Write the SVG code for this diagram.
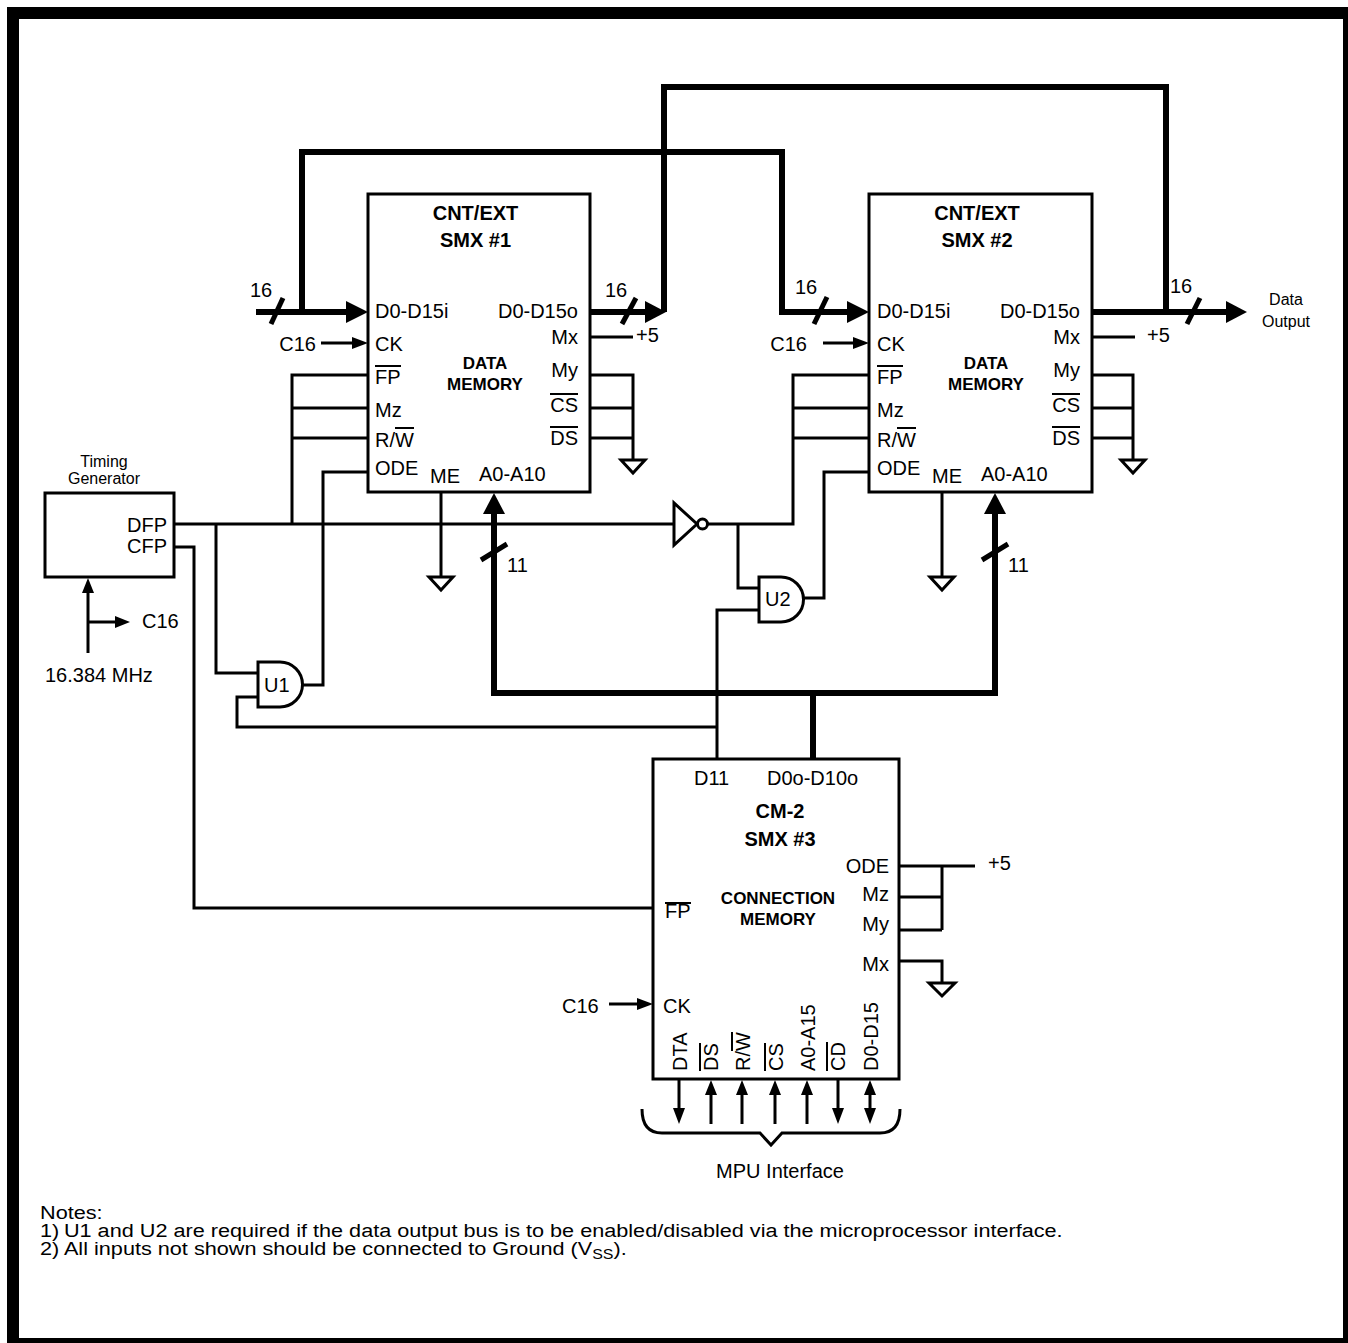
<svg xmlns="http://www.w3.org/2000/svg" width="1348" height="1343" viewBox="0 0 1348 1343">
<style>
.w{stroke:#000;stroke-width:3;fill:none}
.bus{stroke:#000;stroke-width:6;fill:none}
.sl{stroke:#000;stroke-width:5;fill:none}
.box{fill:#fff;stroke:#000;stroke-width:3}
.ah{fill:#000;stroke:none}
.gnd{fill:#fff;stroke:#000;stroke-width:3}
.ol{stroke:#000;stroke-width:2}
text{font-family:"Liberation Sans",Arial,Helvetica,sans-serif;fill:#000}
.t{font-size:20px}
.s{font-size:16px}
.b{font-size:20px;font-weight:bold}
.bs{font-size:17px;font-weight:bold}
.n{font-size:19px}
.m{text-anchor:middle}
.e{text-anchor:end}
</style>
<rect x="13" y="13" width="1336" height="1331" fill="#fff" stroke="#000" stroke-width="12"/>

<g id="connectors">
  <!-- SMX1 input bus -->
  <path class="bus" d="M256,312 H350"/>
  <polygon class="ah" points="346,301 346,323 368,312"/>
  <line class="sl" x1="271" y1="324" x2="283" y2="298"/>
  <text class="t" x="250" y="297">16</text>
  <!-- loop 1 to SMX2 input -->
  <path class="bus" d="M302,312 V152 H782 V312 H850"/>
  <polygon class="ah" points="847,301 847,323 869,312"/>
  <line class="sl" x1="814" y1="324" x2="827" y2="297"/>
  <text class="t" x="795" y="294">16</text>
  <!-- SMX1 output -->
  <path class="bus" d="M590,312 H650"/>
  <polygon class="ah" points="645,301 645,323 666,312"/>
  <line class="sl" x1="622" y1="324" x2="636" y2="298"/>
  <text class="t" x="605" y="297">16</text>
  <path class="bus" d="M664,312 V87 H1166 V312"/>
  <!-- SMX2 output -->
  <path class="bus" d="M1092,312 H1230"/>
  <polygon class="ah" points="1226,301 1226,323 1247,312"/>
  <line class="sl" x1="1187" y1="324" x2="1200" y2="298"/>
  <text class="t" x="1170" y="293">16</text>
  <text class="s m" x="1286" y="305">Data</text>
  <text class="s m" x="1286" y="327">Output</text>

  <!-- SMX1 left side -->
  <path class="w" d="M321,343 H356"/>
  <polygon class="ah" points="352,337 352,349 368,343"/>
  <text class="t e" x="316" y="351">C16</text>
  <path class="w" d="M368,375 H292 V524"/>
  <path class="w" d="M368,408 H292"/>
  <path class="w" d="M368,438 H292"/>
  <path class="w" d="M368,472 H323 V685 H303"/>
  <!-- SMX1 right side -->
  <path class="w" d="M590,337 H633"/>
  <text class="t" x="636" y="342">+5</text>
  <path class="w" d="M590,375 H633 V460"/>
  <path class="w" d="M590,408 H633"/>
  <path class="w" d="M590,438 H633"/>
  <polygon class="gnd" points="621,460 645,460 633,473"/>
  <!-- SMX1 ME -->
  <path class="w" d="M441,492 V577"/>
  <polygon class="gnd" points="429,577 453,577 441,590"/>

  <!-- SMX2 left side -->
  <path class="w" d="M823,343 H857"/>
  <polygon class="ah" points="853,337 853,349 869,343"/>
  <text class="t e" x="807" y="351">C16</text>
  <path class="w" d="M708,524 H793 V375 H869"/>
  <path class="w" d="M869,408 H793"/>
  <path class="w" d="M869,438 H793"/>
  <path class="w" d="M804,598 H824 V472 H869"/>
  <!-- SMX2 right -->
  <path class="w" d="M1092,337 H1135"/>
  <text class="t" x="1147" y="342">+5</text>
  <path class="w" d="M1092,375 H1133 V460"/>
  <path class="w" d="M1092,408 H1133"/>
  <path class="w" d="M1092,438 H1133"/>
  <polygon class="gnd" points="1121,460 1145,460 1133,473"/>
  <path class="w" d="M942,492 V577"/>
  <polygon class="gnd" points="930,577 954,577 942,590"/>

  <!-- address bus -->
  <path class="bus" d="M494,510 V693 H995 V510"/>
  <polygon class="ah" points="483,514 505,514 494,493"/>
  <polygon class="ah" points="984,514 1006,514 995,493"/>
  <line class="sl" x1="481" y1="560" x2="507" y2="544"/>
  <line class="sl" x1="982" y1="560" x2="1008" y2="544"/>
  <text class="t" x="507" y="572">11</text>
  <text class="t" x="1008" y="572">11</text>
  <path class="bus" d="M813,693 V759"/>

  <!-- timing generator lines -->
  <path class="w" d="M174,524 H674"/>
  <path class="w" d="M216,524 V673 H258"/>
  <path class="w" d="M174,547 H194 V908 H653"/>
  <path class="w" d="M738,524 V588 H759"/>
  <path class="w" d="M717,759 V610 H759"/>
  <path class="w" d="M258,697 H237 V727 H717"/>
  <!-- clock -->
  <path class="w" d="M88,653 V590"/>
  <polygon class="ah" points="82,593 94,593 88,578"/>
  <path class="w" d="M88,622 H118"/>
  <polygon class="ah" points="115,616 115,628 130,622"/>
  <text class="t" x="142" y="628">C16</text>
  <text class="t" x="45" y="682">16.384 MHz</text>

  <!-- SMX3 -->
  <path class="w" d="M609,1004 H640"/>
  <polygon class="ah" points="637,998 637,1010 653,1004"/>
  <text class="t" x="562" y="1013">C16</text>
  <path class="w" d="M899,866 H975"/>
  <text class="t" x="988" y="870">+5</text>
  <path class="w" d="M942,866 V930"/>
  <path class="w" d="M899,897 H942"/>
  <path class="w" d="M899,930 H942"/>
  <path class="w" d="M899,961 H942 V983"/>
  <polygon class="gnd" points="929,983 955,983 942,996"/>

  <!-- MPU arrows -->
  <path class="w" d="M679,1079 V1110"/>
  <polygon class="ah" points="673,1108 685,1108 679,1124"/>
  <path class="w" d="M711,1124 V1093"/>
  <polygon class="ah" points="705,1095 717,1095 711,1080"/>
  <path class="w" d="M742,1124 V1093"/>
  <polygon class="ah" points="736,1095 748,1095 742,1080"/>
  <path class="w" d="M775,1124 V1093"/>
  <polygon class="ah" points="769,1095 781,1095 775,1080"/>
  <path class="w" d="M807,1124 V1093"/>
  <polygon class="ah" points="801,1095 813,1095 807,1080"/>
  <path class="w" d="M838,1079 V1110"/>
  <polygon class="ah" points="832,1108 844,1108 838,1124"/>
  <path class="w" d="M870,1093 V1110"/>
  <polygon class="ah" points="864,1095 876,1095 870,1080"/>
  <polygon class="ah" points="864,1108 876,1108 870,1124"/>
  <path class="w" d="M642,1109 Q642,1133 662,1133 H760 L771,1145 L782,1133 H880 Q900,1133 900,1109"/>
  <text class="t m" x="780" y="1178">MPU Interface</text>
</g>

<g id="smx1">
  <rect class="box" x="368" y="194" width="222" height="298"/>
  <text class="b m" x="475.5" y="220">CNT/EXT</text>
  <text class="b m" x="475.5" y="247">SMX #1</text>
  <text class="bs m" x="485" y="369">DATA</text>
  <text class="bs m" x="485" y="390">MEMORY</text>
  <text class="t" x="375" y="318">D0-D15i</text>
  <text class="t" x="375" y="351">CK</text>
  <text class="t" x="375" y="384">FP</text><line class="ol" x1="375" y1="366" x2="401" y2="366"/>
  <text class="t" x="375" y="417">Mz</text>
  <text class="t" x="375" y="447">R/W</text><line class="ol" x1="395" y1="428" x2="414" y2="428"/>
  <text class="t" x="375" y="475">ODE</text>
  <text class="t" x="430" y="483">ME</text>
  <text class="t" x="479" y="481">A0-A10</text>
  <text class="t e" x="578" y="318">D0-D15o</text>
  <text class="t e" x="578" y="344">Mx</text>
  <text class="t e" x="578" y="377">My</text>
  <text class="t e" x="578" y="412">CS</text><line class="ol" x1="550" y1="394" x2="578" y2="394"/>
  <text class="t e" x="578" y="445">DS</text><line class="ol" x1="550" y1="427" x2="578" y2="427"/>
</g>

<g id="smx2">
  <rect class="box" x="869" y="194" width="223" height="298"/>
  <text class="b m" x="977" y="220">CNT/EXT</text>
  <text class="b m" x="977" y="247">SMX #2</text>
  <text class="bs m" x="986" y="369">DATA</text>
  <text class="bs m" x="986" y="390">MEMORY</text>
  <text class="t" x="877" y="318">D0-D15i</text>
  <text class="t" x="877" y="351">CK</text>
  <text class="t" x="877" y="384">FP</text><line class="ol" x1="877" y1="366" x2="903" y2="366"/>
  <text class="t" x="877" y="417">Mz</text>
  <text class="t" x="877" y="447">R/W</text><line class="ol" x1="897" y1="428" x2="916" y2="428"/>
  <text class="t" x="877" y="475">ODE</text>
  <text class="t" x="932" y="483">ME</text>
  <text class="t" x="981" y="481">A0-A10</text>
  <text class="t e" x="1080" y="318">D0-D15o</text>
  <text class="t e" x="1080" y="344">Mx</text>
  <text class="t e" x="1080" y="377">My</text>
  <text class="t e" x="1080" y="412">CS</text><line class="ol" x1="1052" y1="394" x2="1080" y2="394"/>
  <text class="t e" x="1080" y="445">DS</text><line class="ol" x1="1052" y1="427" x2="1080" y2="427"/>
</g>

<g id="timing">
  <rect class="box" x="45" y="493" width="129" height="84"/>
  <text class="s m" x="104" y="467">Timing</text>
  <text class="s m" x="104" y="484">Generator</text>
  <text class="t e" x="167" y="532">DFP</text>
  <text class="t e" x="167" y="553">CFP</text>
</g>

<g id="inverter">
  <polygon class="box" points="674,503 674,545 697,524"/>
  <circle class="box" cx="702.5" cy="524" r="5"/>
</g>

<g id="u1">
  <path class="box" d="M258,662 H280 A22.5,22.5 0 0 1 280,707 H258 Z"/>
  <text class="t" x="264" y="692">U1</text>
</g>

<g id="u2">
  <path class="box" d="M759,577 H781 A22.5,22.5 0 0 1 781,622 H759 Z"/>
  <text class="t" x="765" y="606">U2</text>
</g>

<g id="smx3">
  <rect class="box" x="653" y="759" width="246" height="320"/>
  <text class="t" x="694" y="785">D11</text>
  <text class="t" x="767" y="785">D0o-D10o</text>
  <text class="b m" x="780" y="818">CM-2</text>
  <text class="b m" x="780" y="846">SMX #3</text>
  <text class="bs m" x="778" y="904">CONNECTION</text>
  <text class="bs m" x="778" y="925">MEMORY</text>
  <text class="t e" x="889" y="873">ODE</text>
  <text class="t e" x="889" y="901">Mz</text>
  <text class="t e" x="889" y="931">My</text>
  <text class="t e" x="889" y="971">Mx</text>
  <text class="t" x="665" y="918">FP</text><line class="ol" x1="665" y1="903" x2="691" y2="903"/>
  <text class="t" x="663" y="1013">CK</text>
  <g transform="translate(687,1071) rotate(-90)"><text class="t" x="0" y="0">DTA</text></g>
  <g transform="translate(718,1071) rotate(-90)"><text class="t" x="0" y="0">DS</text><line class="ol" x1="0" y1="-18" x2="28" y2="-18"/></g>
  <g transform="translate(750,1071) rotate(-90)"><text class="t" x="0" y="0">R/W</text><line class="ol" x1="20" y1="-18" x2="39" y2="-18"/></g>
  <g transform="translate(783,1071) rotate(-90)"><text class="t" x="0" y="0">CS</text><line class="ol" x1="0" y1="-18" x2="28" y2="-18"/></g>
  <g transform="translate(815,1071) rotate(-90)"><text class="t" x="0" y="0">A0-A15</text></g>
  <g transform="translate(845,1071) rotate(-90)"><text class="t" x="0" y="0">CD</text><line class="ol" x1="0" y1="-18" x2="29" y2="-18"/></g>
  <g transform="translate(878,1071) rotate(-90)"><text class="t" x="0" y="0">D0-D15</text></g>
</g>

<g id="notes" transform="translate(40,0) scale(1.14,1)">
  <text class="n" x="0" y="1219">Notes:</text>
  <text class="n" x="0" y="1237">1)</text>
  <text class="n" x="21" y="1237">U1 and U2 are required if the data output bus is to be enabled/disabled via the microprocessor interface.</text>
  <text class="n" x="0" y="1255">2)</text>
  <text class="n" x="21" y="1255">All inputs not shown should be connected to Ground (V<tspan font-size="14" dy="4">SS</tspan><tspan dy="-4">).</tspan></text>
</g>
</svg>
